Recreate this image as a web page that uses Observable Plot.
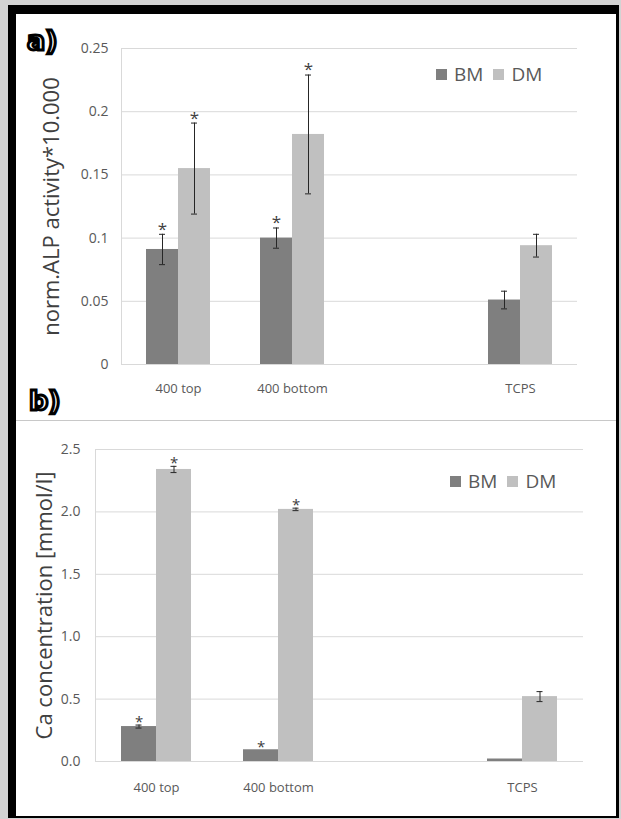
<!DOCTYPE html>
<html><head><meta charset="utf-8">
<script src="https://cdn.jsdelivr.net/npm/d3@7"></script>
<script src="https://cdn.jsdelivr.net/npm/@observablehq/plot@0.6"></script>
<style>
body{margin:0;background:#d3d3d3;width:621px;height:819px;overflow:hidden;position:relative;font-family:"Open Sans",sans-serif}
#frame{position:absolute;left:8px;top:5px;width:600px;height:802px;border-style:solid;border-color:#000;border-width:9px 3px 2px 8px;background:#fff}
.panel{position:absolute;left:0;width:600px}
#pa{top:0;height:406px}
#pb{top:407px;height:395px}
#divider{position:absolute;left:0;top:406px;width:600px;height:1px;background:#c8c8c8}
.tag{position:absolute;font:bold 27px "DejaVu Sans",sans-serif;color:#fff;-webkit-text-stroke:3px #000;line-height:1}
.legend{position:absolute;display:flex;align-items:center;font-size:19px;color:#595959;line-height:1}
.legend .sw{width:11px;height:11px;margin-right:7px}
.legend .it{display:flex;align-items:center;margin-right:10px}
</style></head>
<body>
<div id="frame">
  <div id="pa" class="panel"></div>
  <div id="divider"></div>
  <div id="pb" class="panel"></div>
  <div class="tag" style="left:11px;top:13px">a)</div>
  <div class="tag" style="left:13px;top:373px">b)</div>
</div>
<script>
const categories = ["400 top", "400 bottom", "", "TCPS"];
const series = ["BM", "DM"];
const seriesColors = ["#7f7f7f", "#c0c0c0"];

// panel a: norm. ALP activity
const alpBM = [0.091, 0.100, null, 0.051];
const alpBMerr = [0.012, 0.008, null, 0.007];
const alpDM = [0.155, 0.182, null, 0.094];
const alpDMerr = [0.036, 0.047, null, 0.009];
const alpSigBM = [true, true, false, false];
const alpSigDM = [true, true, false, false];
const alpTicks = [0, 0.05, 0.1, 0.15, 0.2, 0.25];
const alpTickLabels = ["0", "0.05", "0.1", "0.15", "0.2", "0.25"];
const alpLabel = "norm.ALP activity*10.000";

// panel b: Ca concentration
const caBM = [0.28, 0.094, null, 0.02];
const caBMerr = [0.012, 0, null, 0];
const caDM = [2.34, 2.02, null, 0.52];
const caDMerr = [0.025, 0.01, null, 0.04];
const caSigBM = [true, true, false, false];
const caSigDM = [true, true, false, false];
const caTicks = [0, 0.5, 1, 1.5, 2, 2.5];
const caTickLabels = ["0.0", "0.5", "1.0", "1.5", "2.0", "2.5"];
const caLabel = "Ca concentration [mmol/l]";

function rows(bm, bmErr, dm, dmErr, sigBM, sigDM) {
  const out = [];
  categories.forEach((c, i) => {
    out.push({cat: c, series: "BM", value: bm[i], err: bmErr[i], sig: sigBM[i]});
    out.push({cat: c, series: "DM", value: dm[i], err: dmErr[i], sig: sigDM[i]});
  });
  return out;
}

function chart(data, o) {
  const withErr = data.filter(d => d.value != null && d.err > 0);
  const sig = data.filter(d => d.sig);
  return Plot.plot({
    width: 600, height: o.height,
    marginLeft: o.ml, marginRight: o.mr, marginTop: o.mt, marginBottom: o.mb,
    style: {fontFamily: "Open Sans", background: "transparent", color: "#595959"},
    fx: {domain: categories, padding: 0},
    x: {domain: series, paddingInner: 0, paddingOuter: o.po, axis: null},
    y: {domain: o.domain},
    color: {domain: series, range: seriesColors},
    marks: [
      Plot.gridY({ticks: o.ticks, stroke: "#d9d9d9", strokeOpacity: 1}),
      Plot.ruleY([0], {stroke: "#d9d9d9"}),
      Plot.frame({anchor: "left", facetAnchor: "left", stroke: "#d9d9d9"}),
      Plot.barY(data, {fx: "cat", x: "series", y: "value", fill: "series"}),
      Plot.ruleX(withErr, {fx: "cat", x: "series", y1: d => d.value - d.err, y2: d => d.value + d.err, stroke: "#262626"}),
      Plot.tickY(withErr, {fx: "cat", x: "series", y: d => d.value - d.err, stroke: "#262626", insetLeft: o.cap, insetRight: o.cap}),
      Plot.tickY(withErr, {fx: "cat", x: "series", y: d => d.value + d.err, stroke: "#262626", insetLeft: o.cap, insetRight: o.cap}),
      Plot.text(sig, {fx: "cat", x: "series", y: d => d.value + d.err, text: () => "*", fontSize: o.starSize, dy: o.starDy, fill: "#404040"}),
      Plot.axisFx({anchor: "bottom", tickSize: 0, tickPadding: o.xpad, label: null, fontSize: 13, fill: "#595959"}),
      Plot.axisY({ticks: o.ticks, tickFormat: d => o.labels[o.ticks.indexOf(d)], tickSize: 0, tickPadding: o.ypad, label: null, fontSize: 14, fill: "#595959"}),
      Plot.axisY({ticks: [], tickSize: 0, label: o.label, labelAnchor: "center", labelOffset: o.labelOffset, labelArrow: false, fontSize: o.labelSize, fill: "#404040"})
    ]
  });
}

function legend(left, top) {
  const div = document.createElement("div");
  div.className = "legend";
  div.style.left = left + "px";
  div.style.top = top + "px";
  series.forEach((s, i) => {
    const it = document.createElement("div");
    it.className = "it";
    const sw = document.createElement("div");
    sw.className = "sw";
    sw.style.background = seriesColors[i];
    it.appendChild(sw);
    it.appendChild(document.createTextNode(s));
    div.appendChild(it);
  });
  return div;
}

document.getElementById("pa").appendChild(chart(rows(alpBM, alpBMerr, alpDM, alpDMerr, alpSigBM, alpSigDM), {
  height: 406, ml: 104, mr: 39, mt: 34, mb: 56, po: 0.78, domain: [0, 0.25],
  ticks: alpTicks, labels: alpTickLabels, label: alpLabel, labelOffset: 78, labelSize: 22,
  cap: 13, starSize: 17, starDy: -5, xpad: 19, ypad: 13
}));
document.getElementById("pb").appendChild(chart(rows(caBM, caBMerr, caDM, caDMerr, caSigBM, caSigDM), {
  height: 395, ml: 79, mr: 33, mt: 28, mb: 55, po: 0.74, domain: [0, 2.5],
  ticks: caTicks, labels: caTickLabels, label: caLabel, labelOffset: 59, labelSize: 22,
  cap: 14.5, starSize: 15, starDy: -3, xpad: 21, ypad: 15
}));
const fr = document.getElementById("frame");
fr.appendChild(legend(420, 51));
fr.appendChild(legend(434, 458));
</script>
</body></html>
